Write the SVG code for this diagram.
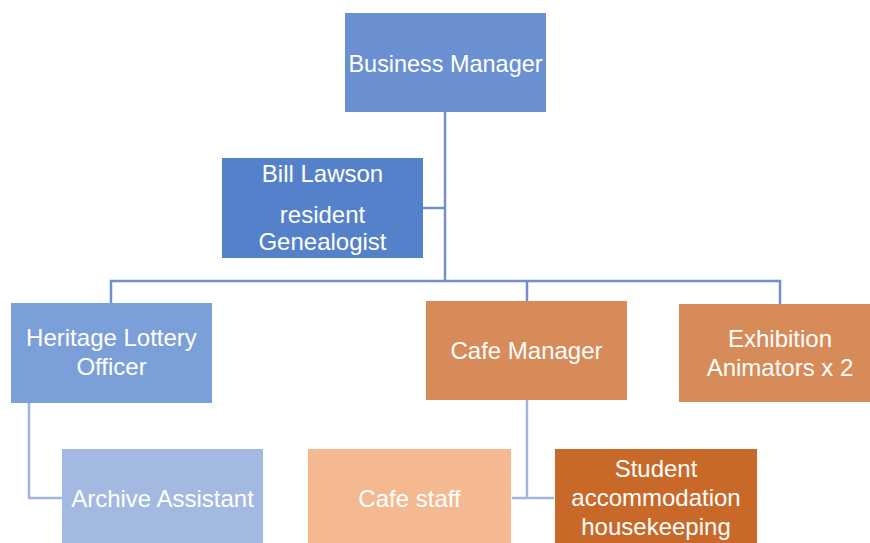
<svg xmlns="http://www.w3.org/2000/svg" width="870" height="543" viewBox="0 0 870 543">
  <style>
    text { font-family: "Liberation Sans", Arial, sans-serif; font-size: 24px; fill: #ffffff; text-anchor: middle; }
    .conn-top { stroke: #6F8FD1; stroke-width: 2.5; fill: none; }
    .conn-low { stroke: #A2B3DD; stroke-width: 2.5; fill: none; }
  </style>
  <rect width="870" height="543" fill="#ffffff"/>

  <!-- connectors -->
  <g id="connectors">
    <path class="conn-top" d="M445 112 V281"/>
    <path class="conn-top" d="M423 208 H445"/>
    <path class="conn-top" d="M111 303 V281 H780 V304"/>
    <path class="conn-top" d="M527 281 V301"/>
    <path class="conn-low" d="M29 403 V498 H62"/>
    <path class="conn-low" d="M527 400 V498"/>
    <path class="conn-low" d="M512 498 H554"/>
  </g>

  <g id="business-manager">
    <rect x="345" y="13" width="201" height="99" fill="#6A90D2"/>
    <text x="445.5" y="72" textLength="194" lengthAdjust="spacingAndGlyphs">Business Manager</text>
  </g>

  <g id="bill-lawson">
    <rect x="222" y="158" width="201" height="100" fill="#5581CB"/>
    <text x="322.5" y="182">Bill Lawson</text>
    <text x="322.5" y="223">resident</text>
    <text x="322.5" y="250">Genealogist</text>
  </g>

  <g id="heritage-lottery-officer">
    <rect x="11" y="303" width="201" height="100" fill="#7B9FD8"/>
    <text x="111.5" y="346">Heritage Lottery</text>
    <text x="111.5" y="375">Officer</text>
  </g>

  <g id="cafe-manager">
    <rect x="426" y="301" width="201" height="99" fill="#D78B59"/>
    <text x="526.5" y="359">Cafe Manager</text>
  </g>

  <g id="exhibition-animators">
    <rect x="679" y="304" width="191" height="98" fill="#D78B59"/>
    <text x="780" y="347">Exhibition</text>
    <text x="780" y="376">Animators x 2</text>
  </g>

  <g id="archive-assistant">
    <rect x="62" y="449" width="201" height="94" fill="#A3B9E1"/>
    <text x="162.5" y="507">Archive Assistant</text>
  </g>

  <g id="cafe-staff">
    <rect x="308" y="449" width="203" height="94" fill="#F4B990"/>
    <text x="409.5" y="507">Cafe staff</text>
  </g>

  <g id="student-housekeeping">
    <rect x="555" y="449" width="202" height="94" fill="#C8692A"/>
    <text x="656" y="477">Student</text>
    <text x="656" y="506">accommodation</text>
    <text x="656" y="535">housekeeping</text>
  </g>
</svg>
